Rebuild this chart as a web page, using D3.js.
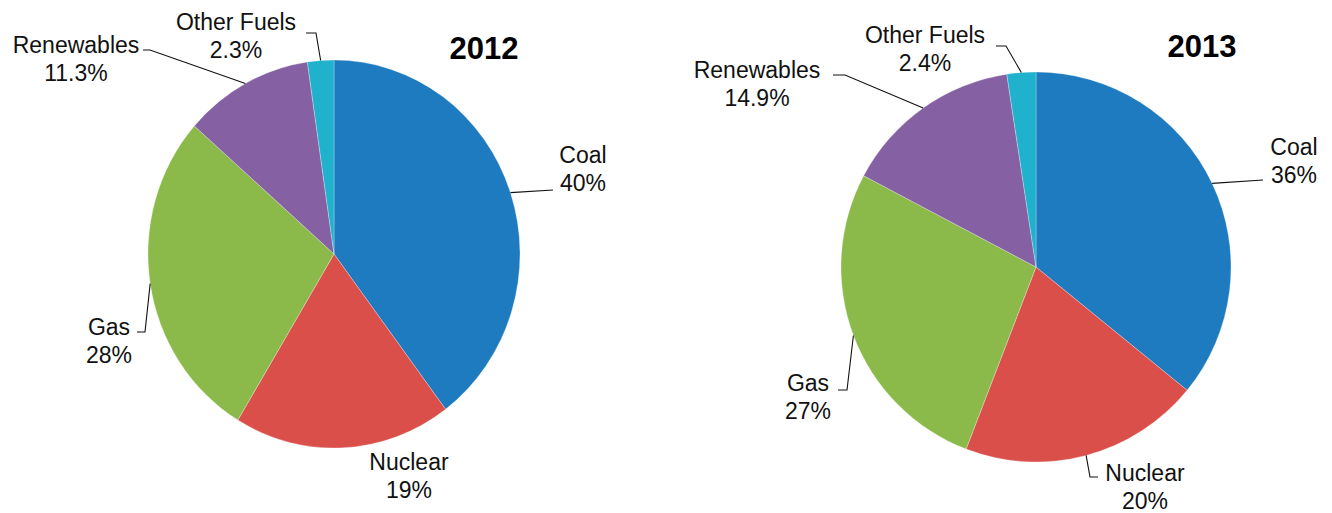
<!DOCTYPE html>
<html>
<head>
<meta charset="utf-8">
<script src="https://cdn.jsdelivr.net/npm/d3@7"></script>
<style>
  html, body { margin: 0; padding: 0; background: #fff; }
  svg { display: block; font-family: "Liberation Sans", Arial, sans-serif; }
</style>
</head>
<body>
<svg id="chart" width="1332" height="513"></svg>
<script>
// ---- data ----
const fuels = ["Coal", "Nuclear", "Gas", "Renewables", "Other Fuels"];
const values2012 = [40, 19, 28, 11.3, 2.3];
const values2013 = [36, 20, 27, 14.9, 2.4];
const labels2012 = ["40%", "19%", "28%", "11.3%", "2.3%"];
const labels2013 = ["36%", "20%", "27%", "14.9%", "2.4%"];
const years = ["2012", "2013"];
const colors = ["#1f7bbf", "#da4f4a", "#8bba4a", "#8561a4", "#20b2cd"];

// ---- layout (positions of pies and label annotations) ----
const pies = [
  { year: years[0], values: values2012, labels: labels2012, cx: 334, cy: 254, rx: 186, ry: 194,
    title: [484, 48],
    lab: [
      { x: 583, y: 155, elbow: null, end: [553, 190] },
      { x: 409, y: 462, elbow: null, end: null },
      { x: 109, y: 327, elbow: [145, 332], end: [137, 332] },
      { x: 76, y: 45, elbow: [150, 50], end: [143, 50] },
      { x: 236, y: 22, elbow: [316, 33], end: [306, 33] }
    ] },
  { year: years[1], values: values2013, labels: labels2013, cx: 1036, cy: 267, rx: 195, ry: 195,
    title: [1202, 46],
    lab: [
      { x: 1294, y: 147, elbow: null, end: [1263, 180] },
      { x: 1145, y: 473, elbow: [1090, 477], end: [1098, 477] },
      { x: 808, y: 383, elbow: [847, 390], end: [838, 390] },
      { x: 757, y: 70, elbow: [845, 75], end: [833, 75] },
      { x: 925, y: 35, elbow: [1006, 46], end: [996, 46] }
    ] }
];

const svg = d3.select("#chart");
const color = d3.scaleOrdinal().domain(fuels).range(colors);
const pie = d3.pie().sort(null).value(d => d.v);
const fs = 23, lineGap = 28;

pies.forEach(p => {
  const data = fuels.map((f, i) => ({ name: f, v: p.values[i], label: p.labels[i], lab: p.lab[i] }));
  const arcs = pie(data);
  const R = p.ry;
  const sx = p.rx / p.ry;
  const arc = d3.arc().innerRadius(0).outerRadius(R);

  const g = svg.append("g").attr("transform", `translate(${p.cx},${p.cy}) scale(${sx},1)`);
  g.selectAll("path").data(arcs).join("path")
    .attr("d", arc)
    .attr("fill", d => color(d.data.name))
    .attr("stroke", "#ffffff")
    .attr("stroke-opacity", 0.35)
    .attr("stroke-width", 0.8);

  // leader lines and labels
  arcs.forEach(a => {
    const L = a.data.lab;
    const mid = (a.startAngle + a.endAngle) / 2;
    const px = p.cx + p.rx * Math.sin(mid);
    const py = p.cy - p.ry * Math.cos(mid);
    if (L.end) {
      const pts = [[px, py]];
      if (L.elbow) pts.push(L.elbow);
      pts.push(L.end);
      svg.append("path")
        .attr("d", d3.line()(pts))
        .attr("fill", "none")
        .attr("stroke", "#111")
        .attr("stroke-width", 1.1);
    }
    const t = svg.append("text")
      .attr("text-anchor", "middle")
      .attr("font-size", fs)
      .attr("fill", "#111");
    t.append("tspan").attr("x", L.x).attr("y", L.y + 8).text(a.data.name);
    t.append("tspan").attr("x", L.x).attr("y", L.y + 8 + lineGap).text(a.data.label);
  });

  svg.append("text")
    .attr("x", p.title[0]).attr("y", p.title[1] + 11)
    .attr("text-anchor", "middle")
    .attr("font-size", 31)
    .attr("font-weight", "bold")
    .attr("fill", "#000")
    .text(p.year);
});
</script>
</body>
</html>
